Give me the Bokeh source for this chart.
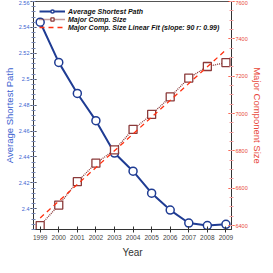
import numpy as np
from bokeh.plotting import figure
from bokeh.models import (Range1d, LinearAxis, FixedTicker, CustomJSTickFormatter,
                          Legend, LegendItem)
from bokeh.embed import file_html
from bokeh.resources import INLINE

years = [1999, 2000, 2001, 2002, 2003, 2004, 2005, 2006, 2007, 2008, 2009]
avg_path = [2.544, 2.513, 2.489, 2.468, 2.443, 2.429, 2.412, 2.399, 2.389, 2.387, 2.388]
comp_size = [6400, 6510, 6635, 6734, 6805, 6915, 6995, 7089, 7190, 7252, 7273]
left_ticks = [2.4, 2.42, 2.44, 2.46, 2.48, 2.5, 2.52, 2.54, 2.56]
right_ticks = [6400, 6600, 6800, 7000, 7200, 7400, 7600]
fit_label = "Major Comp. Size Linear Fit (slope: 90 r: 0.99)"

slope, intercept = np.polyfit(years, comp_size, 1)
fit_x = [years[0], years[-1]]
fit_y = [slope * x + intercept for x in fit_x]

BLUE = "#1f3c93"
BLUE_TXT = "#3b62d0"
BROWN = "#8b3a3a"
RED = "#ff3010"
RED_TXT = "#e8483a"
FONT = "Liberation Sans"

p = figure(frame_width=198, frame_height=228, output_backend="svg", toolbar_location=None,
           x_range=Range1d(1998.64, 2009.3), y_range=Range1d(2.384, 2.56),
           min_border_left=0, min_border_right=0, min_border_top=1, min_border_bottom=0)
p.extra_y_ranges = {"size": Range1d(6379, 7600)}
p.grid.visible = False
p.outline_line_color = "#555555"
p.outline_line_width = 1
p.background_fill_color = "white"

# axes
xa = p.xaxis[0]
xa.ticker = FixedTicker(ticks=years)
xa.axis_label = "Year"
xa.axis_label_text_font = FONT
xa.axis_label_text_font_size = "10px"
xa.axis_label_text_font_style = "normal"
xa.axis_label_text_color = "#333333"
xa.axis_label_standoff = 4
xa.major_label_text_font = FONT
xa.major_label_text_font_size = "6.5px"
xa.major_label_text_color = "#444444"
xa.major_label_standoff = 2
xa.major_tick_in = 3
xa.major_tick_out = 3
xa.minor_tick_line_color = None
xa.axis_line_color = "#333333"
xa.major_tick_line_color = "#333333"

ya = p.yaxis[0]
ya.ticker = FixedTicker(ticks=left_ticks, minor_ticks=[round(2.384 + 0.004 * i, 3) for i in range(45)])
ya.formatter = CustomJSTickFormatter(code="return tick.toFixed(2).replace(/0+$/,'').replace(/\\.$/,'');")
ya.axis_label = "Average Shortest Path"
ya.axis_label_text_font = FONT
ya.axis_label_text_font_size = "9.5px"
ya.axis_label_text_font_style = "normal"
ya.axis_label_text_color = BLUE_TXT
ya.axis_label_standoff = 1
ya.major_label_text_font = FONT
ya.major_label_text_font_size = "5.5px"
ya.major_label_text_color = BLUE_TXT
ya.major_label_standoff = 1
ya.major_tick_in = 3
ya.major_tick_out = 3
ya.minor_tick_in = 2
ya.minor_tick_out = 2
ya.axis_line_color = "#333333"
ya.major_tick_line_color = "#333333"
ya.minor_tick_line_color = "#7a8ab8"

ra = LinearAxis(y_range_name="size")
ra.ticker = FixedTicker(ticks=right_ticks, minor_ticks=list(range(6400, 7601, 50)))
ra.axis_label = "Major Component Size"
ra.axis_label_text_font = FONT
ra.axis_label_text_font_size = "9.5px"
ra.axis_label_text_font_style = "normal"
ra.axis_label_text_color = RED_TXT
ra.axis_label_standoff = 1
ra.major_label_text_font = FONT
ra.major_label_text_font_size = "5.5px"
ra.major_label_text_color = RED_TXT
ra.major_label_standoff = 1
ra.major_tick_in = 3
ra.major_tick_out = 3
ra.minor_tick_in = 2
ra.minor_tick_out = 2
ra.axis_line_color = "#333333"
ra.major_tick_line_color = RED
ra.minor_tick_line_color = "#f0a0a0"
p.add_layout(ra, "right")

# series
l1 = p.line(years, avg_path, line_color=BLUE, line_width=2)
c1 = p.scatter(years, avg_path, marker="circle", size=8, fill_color="white",
               line_color=BLUE, line_width=1.5)
l2 = p.line(years, comp_size, line_color=BROWN, line_width=1.3, line_dash="1 1",
            y_range_name="size")
s2 = p.scatter(years, comp_size, marker="square", size=8, fill_color="white",
               line_color=BROWN, line_width=1.3, y_range_name="size")
l3 = p.line(fit_x, fit_y, line_color=RED, line_width=1.3, line_dash="5 4",
            y_range_name="size")

legend = Legend(items=[
    LegendItem(label="Average Shortest Path", renderers=[l1, c1]),
    LegendItem(label="Major Comp. Size", renderers=[l2, s2]),
    LegendItem(label=fit_label, renderers=[l3]),
], location="top_left")
legend.border_line_color = None
legend.background_fill_alpha = 0
legend.label_text_font = FONT
legend.label_text_font_size = "7px"
legend.label_text_font_style = "bold italic"
legend.label_text_color = "#111111"
legend.glyph_width = 26
legend.glyph_height = 8
legend.label_height = 8
legend.spacing = 0
legend.padding = 2
legend.margin = 6
legend.label_standoff = 3
p.add_layout(legend)

open("out.html", "w").write(file_html(p, INLINE))
